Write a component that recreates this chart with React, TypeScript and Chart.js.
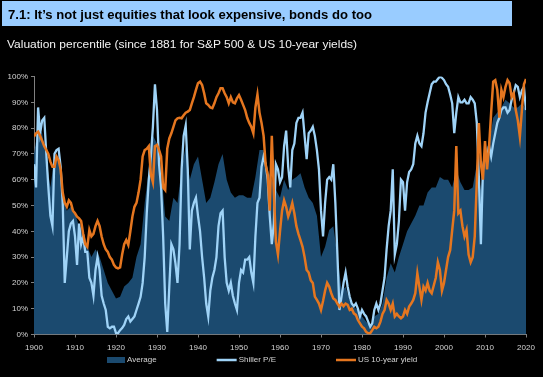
import React, { useEffect, useLayoutEffect, useRef } from 'react';
import { Chart, registerables } from 'chart.js';

Chart.register(...registerables);

// ---------- DATA ----------
const TITLE = '7.1: It\u2019s not just equities that look expensive, bonds do too';
const SUBTITLE = 'Valuation percentile (since 1881 for S&P 500 & US 10-year yields)';

const xTickLabels = ['1900', '1910', '1920', '1930', '1940', '1950', '1960', '1970', '1980', '1990', '2000', '2010', '2020'];
const yTickLabels = ['0%', '10%', '20%', '30%', '40%', '50%', '60%', '70%', '80%', '90%', '100%'];

const seriesLabels = ['Average', 'Shiller P/E', 'US 10-year yield'];

// half-year dates 1900.0 ... 2020.0
const halfYears: number[] = Array.from({ length: 241 }, (_, i) => 1900 + i / 2);
// annual dates 1900 ... 2020
const years: number[] = Array.from({ length: 121 }, (_, i) => 1900 + i);

const shillerPE: number[] = [
  66, 57, 88, 78, 83, 84, 70, 57, 46, 42, 70, 71.5, 72, 65, 51, 20, 30, 40, 43, 44,
  38, 27, 43, 35, 38, 32, 32, 22, 20, 15, 25, 30, 25, 15, 12, 9.5, 3, 2.4, 3, 3,
  0.5, 0.5, 1.7, 2.5, 3.7, 6, 7, 5, 6, 7, 9.5, 12, 14.6, 20, 30, 47, 60, 69, 80.5, 97,
  87, 66, 57, 38, 12, 1, 18.5, 35, 33, 27.6, 20, 35, 64, 77, 81, 64, 33, 48, 51, 53,
  46, 40, 30, 22, 12, 7, 17, 22, 25, 30, 42, 47, 48, 30, 20, 17, 20, 15, 12, 9.5,
  20, 25, 24, 29, 29, 30, 24, 20, 38, 51, 53, 65, 69, 66, 60, 46, 35, 43, 66, 64,
  59, 61, 73, 79, 65, 57, 71.5, 74, 82, 84, 84, 86, 77, 68, 78, 79, 80.5, 77, 71.5, 64,
  48, 38, 51, 60, 61, 60, 66, 51, 31, 9.5, 14.6, 20, 24, 18.5, 14.6, 12, 11, 12, 10, 7,
  9.5, 8, 7, 5, 3, 4.3, 9.5, 12, 9.5, 12, 17, 22, 33, 42, 48, 64, 31, 35, 44, 60,
  59, 48, 59, 63, 64, 66, 74, 77, 74, 73, 78, 86, 90, 93.5, 97, 98, 98, 99, 100, 99.5,
  98.6, 97, 96, 93, 89.6, 78, 86, 92, 90, 90, 91, 89.6, 89.6, 92, 91, 89.6, 82, 61, 35, 64,
  70, 69, 73, 69, 74, 78, 82, 84, 87, 88, 88, 86, 87, 91, 93.5, 96.7, 96, 92, 94.6, 96,
  87,
];

const us10y: number[] = [
  76.7, 78, 78.6, 77, 75, 73, 71.5, 70, 67, 65, 65, 69, 67.6, 64, 55, 51, 49.5, 52, 51, 48,
  47, 45.7, 45, 44, 39, 35, 34, 40.5, 38, 39, 42, 44, 42, 38, 35, 33, 32, 30, 29, 27,
  26, 25.6, 26, 31, 35, 36.6, 34.7, 40, 45.7, 49.5, 51, 55, 60, 69, 71.5, 72, 73, 62, 59, 73,
  73.5, 71.5, 69, 57, 56, 72, 76, 78, 80.5, 83, 83.8, 84, 83.8, 85, 86, 86.4, 87, 89.6, 92, 94.8,
  97.4, 98, 96.7, 93.5, 89.6, 89, 88, 87.7, 89.6, 92, 93.5, 95.4, 95.4, 93.5, 92, 89.6, 92, 90, 89.6, 91.5,
  92.8, 91, 89, 87, 84, 82, 80.5, 78, 88, 93, 86, 82, 77, 66, 62, 48, 77, 55, 36, 31,
  40, 48, 52, 49.5, 45.7, 48, 51, 47, 42, 39, 36.6, 34, 30, 25, 24, 21, 20, 14.7, 13.4, 12,
  9.5, 13, 17, 20, 18.6, 16, 14, 13.4, 12, 10.8, 12, 11, 12, 11.5, 9.5, 10, 8.2, 7.6, 5.6, 4.3,
  3, 2.4, 1, 0.5, 0.5, 1.7, 3, 2.4, 3, 5, 8, 9.5, 13.4, 12, 9.5, 12, 7, 8, 7, 6.3,
  7, 9.5, 8, 10.8, 12, 13.4, 16, 23.7, 18.5, 13.4, 18.5, 17, 20, 17, 16, 19, 22, 28, 25, 17,
  20, 25, 30, 32.7, 40.5, 48, 73, 47, 48, 42, 38, 40.5, 31, 28, 30, 38, 59, 82, 66, 60,
  75, 64, 73, 86, 98, 98.6, 94.8, 84, 94.8, 92, 96, 98.6, 97.4, 92, 93.5, 87, 83, 76.7, 87, 97,
  99,
];

const average: number[] = [
  70, 80, 78, 68, 57, 69, 67.6, 53, 48, 49.5,
  47, 42, 40.5, 34, 30, 33, 30, 25, 20, 17,
  14, 14.6, 18.6, 20, 22, 30, 35, 51, 64, 77,
  74, 64, 45.7, 44, 53, 51, 64, 73, 60, 66,
  69, 60, 51, 53, 59, 66, 70, 60, 55, 53,
  54, 54, 53, 53, 61, 71.5, 71.5, 64, 60, 56,
  53, 60, 56, 60, 61, 62.5, 57, 53, 51, 46,
  30, 34, 40.5, 42, 31, 17, 18.5, 13.4, 10.8, 9.5,
  7, 5, 3, 7, 8, 12, 22, 27.6, 24, 30,
  35, 40, 43, 46, 50, 50, 55, 57, 57, 61,
  60, 60, 57, 64, 59, 56, 56, 57, 66, 56,
  71.5, 74, 84, 86, 88, 91, 89.6, 88, 88, 89.6,
  87,
];

// ---------- STYLE ----------
const AREA_COLOR = '#1b4a6f';
const SHILLER_COLOR = '#9fd3f7';
const YIELD_COLOR = '#e5761f';
const AXIS_COLOR = '#808080';
const TEXT_COLOR = '#d4d4d4';
const FONT_FAMILY = '"Liberation Sans", Arial, sans-serif';

const legendPlugin = {
  id: 'customLegend',
  afterDraw(chart: any) {
    const ctx = chart.ctx as CanvasRenderingContext2D;
    ctx.save();
    ctx.font = `8px ${FONT_FAMILY}`;
    ctx.textBaseline = 'middle';
    ctx.textAlign = 'left';
    let x = 107;
    const y = 360;
    chart.data.datasets.forEach((ds: any) => {
      if (ds.fill) {
        ctx.fillStyle = ds.backgroundColor;
        ctx.fillRect(x, y - 3, 18, 6);
        x += 18;
      } else {
        ctx.strokeStyle = ds.borderColor;
        ctx.lineWidth = 2.5;
        ctx.beginPath();
        ctx.moveTo(x, y);
        ctx.lineTo(x + 20, y);
        ctx.stroke();
        x += 20;
      }
      x += 2;
      ctx.fillStyle = TEXT_COLOR;
      ctx.fillText(ds.label, x, y);
      x += ctx.measureText(ds.label).width + 60;
    });
    ctx.restore();
  },
};

function FitText({ text, width, style }: { text: string; width: number; style: React.CSSProperties }) {
  const ref = useRef<HTMLSpanElement>(null);
  useLayoutEffect(() => {
    const el = ref.current;
    if (!el) return;
    el.style.transform = 'none';
    const w = el.getBoundingClientRect().width;
    if (w > 0) el.style.transform = `scaleX(${width / w})`;
  }, [text, width]);
  return (
    <span
      ref={ref}
      style={{ display: 'inline-block', whiteSpace: 'nowrap', transformOrigin: '0 50%', ...style }}
    >
      {text}
    </span>
  );
}

export default function App() {
  const canvasRef = useRef<HTMLCanvasElement>(null);

  useEffect(() => {
    const canvas = canvasRef.current;
    if (!canvas) return;
    const tickFont = { family: FONT_FAMILY, size: 8 };
    const chart = new Chart(canvas, {
      type: 'line',
      data: {
        datasets: [
          {
            label: seriesLabels[0],
            data: years.map((x, i) => ({ x, y: average[i] })),
            fill: 'origin',
            backgroundColor: AREA_COLOR,
            borderColor: AREA_COLOR,
            borderWidth: 0,
            pointRadius: 0,
            order: 3,
          },
          {
            label: seriesLabels[1],
            data: halfYears.map((x, i) => ({ x, y: shillerPE[i] })),
            fill: false,
            borderColor: SHILLER_COLOR,
            backgroundColor: SHILLER_COLOR,
            borderWidth: 2.3,
            pointRadius: 0,
            order: 2,
          },
          {
            label: seriesLabels[2],
            data: halfYears.map((x, i) => ({ x, y: us10y[i] })),
            fill: false,
            borderColor: YIELD_COLOR,
            backgroundColor: YIELD_COLOR,
            borderWidth: 2.5,
            pointRadius: 0,
            order: 1,
          },
        ],
      } as any,
      options: {
        animation: false,
        responsive: false,
        layout: { padding: { top: 76.5, right: 17, left: 0, bottom: 0 } },
        elements: { line: { tension: 0 }, point: { radius: 0 } },
        plugins: {
          legend: { display: false },
          tooltip: { enabled: false },
        },
        scales: {
          x: {
            type: 'linear',
            min: 1900,
            max: 2020,
            afterFit: (s: any) => {
              s.height = 42.5;
            },
            ticks: {
              stepSize: 10,
              color: TEXT_COLOR,
              font: tickFont,
              padding: 5,
              maxRotation: 0,
              autoSkip: false,
              callback: (v: any) => xTickLabels[Math.round((Number(v) - 1900) / 10)] ?? '',
            },
            grid: { drawOnChartArea: false, drawTicks: true, tickLength: 3, color: AXIS_COLOR },
            border: { display: true, color: AXIS_COLOR, width: 1 },
          },
          y: {
            min: 0,
            max: 100,
            afterFit: (s: any) => {
              s.width = 34;
            },
            ticks: {
              stepSize: 10,
              color: TEXT_COLOR,
              font: tickFont,
              padding: 3,
              callback: (v: any) => yTickLabels[Math.round(Number(v) / 10)] ?? '',
            },
            grid: { drawOnChartArea: false, drawTicks: true, tickLength: 3, color: AXIS_COLOR },
            border: { display: true, color: AXIS_COLOR, width: 1 },
          },
        },
      } as any,
      plugins: [legendPlugin],
    });
    return () => chart.destroy();
  }, []);

  return (
    <div
      style={{
        position: 'fixed',
        left: 0,
        top: 0,
        width: 543,
        height: 377,
        background: '#000',
        overflow: 'hidden',
      }}
    >
      <canvas ref={canvasRef} width={543} height={377} style={{ position: 'absolute', left: 0, top: 0 }} />
      <div
        style={{
          position: 'absolute',
          left: 2,
          top: 1,
          width: 510,
          height: 25,
          background: '#99ccff',
        }}
      >
        <div style={{ position: 'absolute', left: 6, top: 0, height: 25, lineHeight: '25px' }}>
          <FitText
            text={TITLE}
            width={364}
            style={{ fontFamily: FONT_FAMILY, fontWeight: 'bold', fontSize: 13.5, color: '#000' }}
          />
        </div>
      </div>
      <div style={{ position: 'absolute', left: 7, top: 36, height: 14, lineHeight: '14px' }}>
        <FitText text={SUBTITLE} width={350} style={{ fontFamily: FONT_FAMILY, fontSize: 11, color: '#f2f2f2' }} />
      </div>
    </div>
  );
}
